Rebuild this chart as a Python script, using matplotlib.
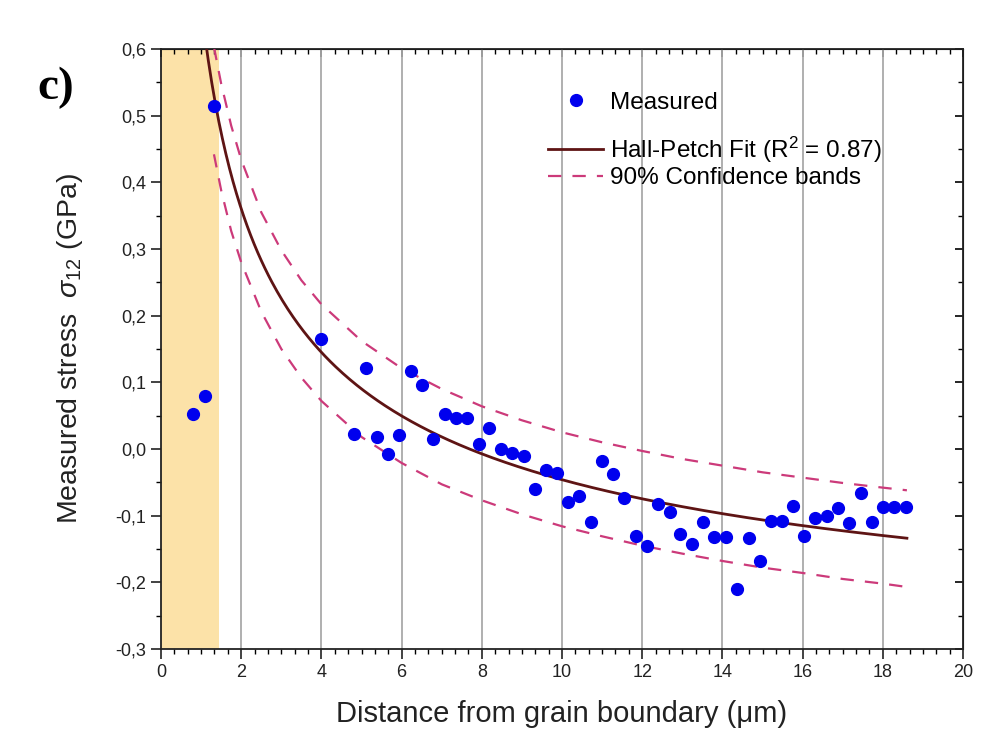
import numpy as np
import matplotlib
matplotlib.use("Agg")
import matplotlib.pyplot as plt
from matplotlib.ticker import MultipleLocator, FuncFormatter
from matplotlib.lines import Line2D

plt.rcParams['font.family'] = ['Liberation Sans', 'DejaVu Sans']
plt.rcParams['mathtext.fontset'] = 'custom'
plt.rcParams['mathtext.rm'] = 'Liberation Sans'
plt.rcParams['mathtext.it'] = 'Liberation Sans:italic'

# ---- data ----
dist_um = [0.80, 1.10, 1.32, 3.98, 4.82, 5.10, 5.39, 5.67, 5.94, 6.23, 6.51, 6.79,
           7.07, 7.35, 7.63, 7.92, 8.19, 8.47, 8.75, 9.04, 9.32, 9.60, 9.88, 10.14,
           10.43, 10.73, 11.00, 11.27, 11.55, 11.85, 12.12, 12.40, 12.68, 12.95,
           13.24, 13.52, 13.80, 14.09, 14.36, 14.66, 14.93, 15.20, 15.48, 15.76,
           16.03, 16.32, 16.60, 16.87, 17.16, 17.45, 17.73, 18.00, 18.29, 18.57]
stress_gpa = [0.053, 0.080, 0.515, 0.165, 0.023, 0.122, 0.018, -0.007, 0.021, 0.117,
              0.096, 0.015, 0.053, 0.047, 0.047, 0.008, 0.031, 0.000, -0.006, -0.010,
              -0.060, -0.031, -0.036, -0.080, -0.070, -0.109, -0.018, -0.038, -0.074,
              -0.130, -0.146, -0.082, -0.095, -0.127, -0.142, -0.110, -0.132, -0.132,
              -0.210, -0.134, -0.168, -0.108, -0.108, -0.086, -0.130, -0.104, -0.100,
              -0.088, -0.111, -0.066, -0.109, -0.087, -0.087, -0.087]

# Hall-Petch fit parameters: sigma = sigma0 + k / sqrt(d)
hp_sigma0 = -0.375
hp_k = 1.04
fit_range = [1.0, 18.6]

# 90% confidence bands
band_x = [1.32, 1.5, 1.75, 2.0, 2.5, 3.0, 3.5, 4.0, 5.0, 6.0, 7.0, 8.0, 9.0, 10.0,
          11.0, 12.0, 13.0, 14.0, 15.0, 16.0, 17.0, 18.0, 18.6]
band_upper = [0.603, 0.548, 0.485, 0.434, 0.355, 0.298, 0.253, 0.217, 0.162, 0.121,
              0.090, 0.064, 0.043, 0.025, 0.010, -0.003, -0.015, -0.025, -0.035,
              -0.043, -0.051, -0.058, -0.062]
band_lower = [0.442, 0.388, 0.327, 0.280, 0.206, 0.150, 0.107, 0.072, 0.018, -0.021,
              -0.053, -0.077, -0.098, -0.116, -0.131, -0.145, -0.157, -0.168, -0.178,
              -0.186, -0.195, -0.202, -0.207]

shade_range = [0.0, 1.45]

x_ticks = [0, 2, 4, 6, 8, 10, 12, 14, 16, 18, 20]
y_ticks = [-0.3, -0.2, -0.1, 0.0, 0.1, 0.2, 0.3, 0.4, 0.5, 0.6]

FIT_C = '#5E1414'
BAND_C = '#CC3A7A'
PT_C = '#0000EE'
TXT_C = '#222222'

# ---- figure ----
fig = plt.figure(figsize=(9.83, 7.41), dpi=100)
ax = fig.add_axes([0.1638, 0.1242, 0.8159, 0.8097])

ax.axvspan(shade_range[0], shade_range[1], color='#FCE2A8', zorder=0, lw=0)

for xv in x_ticks[1:-1]:
    ax.axvline(xv, color='#A9A9A9', lw=1.3, zorder=1)

xf = np.linspace(fit_range[0], fit_range[1], 400)
ax.plot(xf, hp_sigma0 + hp_k / np.sqrt(xf), color=FIT_C, lw=2.0, zorder=3)
ax.plot(band_x, band_upper, color=BAND_C, lw=1.6, ls=(0, (6, 5)), zorder=3)
ax.plot(band_x, band_lower, color=BAND_C, lw=1.6, ls=(0, (6, 5)), zorder=3)
ax.plot(dist_um, stress_gpa, 'o', color=PT_C, ms=8.5, mec=PT_C, zorder=4)

ax.set_xlim(0, 20)
ax.set_ylim(-0.3, 0.6)
ax.set_xticks(x_ticks)
ax.set_yticks(y_ticks)
ax.xaxis.set_minor_locator(MultipleLocator(2 / 6))
ax.yaxis.set_minor_locator(MultipleLocator(0.05))
ax.yaxis.set_major_formatter(FuncFormatter(lambda v, p: f"{v:.1f}".replace('.', ',').replace('-0,0', '0,0')))
ax.xaxis.set_major_formatter(FuncFormatter(lambda v, p: f"{int(round(v))}"))
ax.tick_params(which='major', direction='out', length=7, width=1.2, labelsize=13, colors=TXT_C)
ax.tick_params(which='minor', direction='out', length=3.5, width=1.0)
for s in ax.spines.values():
    s.set_linewidth(1.3)
    s.set_color(TXT_C)

secx = ax.secondary_xaxis('top')
secx.set_xticks(x_ticks)
secx.xaxis.set_minor_locator(MultipleLocator(2 / 6))
secx.tick_params(which='major', direction='in', length=6, width=1.2, labeltop=False)
secx.tick_params(which='minor', direction='in', length=3.5, width=1.0)
secy = ax.secondary_yaxis('right')
secy.set_yticks(y_ticks)
secy.yaxis.set_minor_locator(MultipleLocator(0.05))
secy.tick_params(which='major', direction='in', length=6, width=1.2, labelright=False)
secy.tick_params(which='minor', direction='in', length=3.5, width=1.0)

ax.set_xlabel('Distance from grain boundary (\u03bcm)', fontsize=21, color=TXT_C, labelpad=14)
ax.set_ylabel('Measured stress  $\\sigma_{12}$ (GPa)', fontsize=20.5, color=TXT_C, labelpad=22)

leg_kw = dict(loc='upper left', frameon=False, fontsize=17.5, handlelength=2.25,
              handletextpad=0.3, borderaxespad=0)
leg1 = ax.legend([Line2D([], [], ls='none', marker='o', color=PT_C, ms=8.5)], ['Measured'],
                 bbox_to_anchor=(0.471, 0.945), **leg_kw)
ax.add_artist(leg1)
ax.legend([Line2D([], [], color=FIT_C, lw=2.0),
           Line2D([], [], color=BAND_C, lw=1.6, ls=(0, (6, 5)))],
          ['Hall-Petch Fit (R$^2$ = 0.87)', '90% Confidence bands'],
          bbox_to_anchor=(0.471, 0.874), labelspacing=0.12, **leg_kw)

fig.text(0.038, 0.866, 'c)', fontsize=34, fontweight='bold', family='Liberation Serif')

fig.savefig('out.png', dpi=100)
